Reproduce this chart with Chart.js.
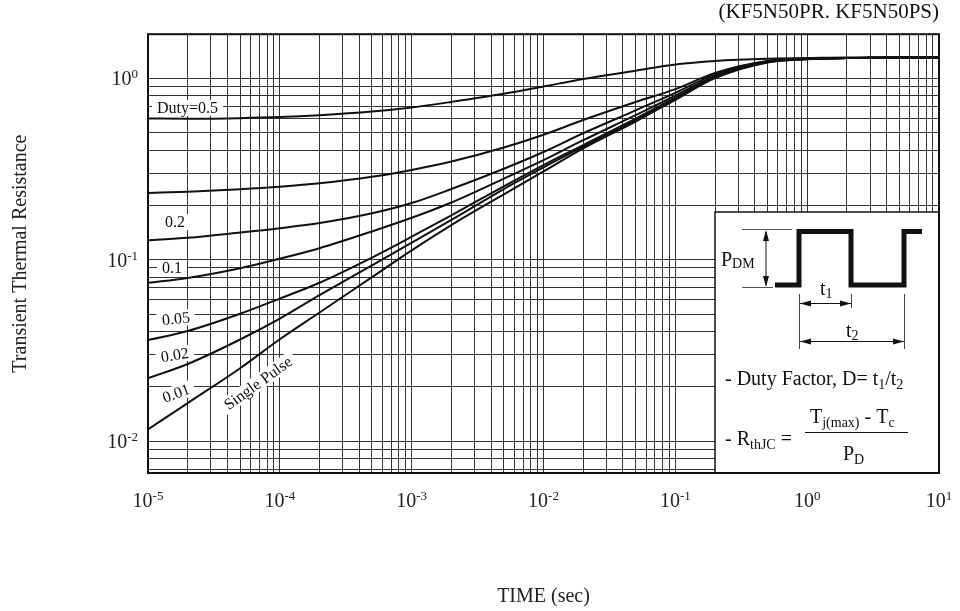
<!DOCTYPE html>
<html>
<head>
<meta charset="utf-8">
<title>Transient Thermal Resistance</title>
<script src="https://cdn.jsdelivr.net/npm/chart.js@4.4.1/dist/chart.umd.min.js"></script>
<style>
  html, body { margin: 0; padding: 0; background: #fff; }
  #chart { display: block; }
</style>
</head>
<body>
<canvas id="chart" width="960" height="611"></canvas>
<script>
const times = [1e-5, 2e-5, 5e-5, 1e-4, 2e-4, 5e-4, 1e-3, 2e-3, 5e-3, 1e-2, 2e-2, 5e-2, 1e-1, 2e-1, 5e-1, 1, 2, 5, 10];

// normalized transient thermal resistance per duty factor
const duty05      = [0.600, 0.598, 0.602, 0.610, 0.625, 0.655, 0.690, 0.740, 0.820, 0.900, 0.990, 1.100, 1.190, 1.245, 1.280, 1.290, 1.300, 1.300, 1.300];
const duty02      = [0.233, 0.2366, 0.2443, 0.2522, 0.2632, 0.2859, 0.312, 0.347, 0.415, 0.488, 0.588, 0.739, 0.870, 1.070, 1.245, 1.280, 1.290, 1.300, 1.300];
const duty01      = [0.128, 0.132, 0.141, 0.149, 0.159, 0.180, 0.205, 0.245, 0.317, 0.392, 0.497, 0.665, 0.830, 1.050, 1.240, 1.280, 1.290, 1.300, 1.300];
const duty005     = [0.0745, 0.0793, 0.0897, 0.1012, 0.1156, 0.143, 0.170, 0.2065, 0.2795, 0.3535, 0.455, 0.625, 0.800, 1.030, 1.235, 1.280, 1.290, 1.300, 1.300];
const duty002     = [0.036, 0.0404, 0.0503, 0.061, 0.0746, 0.1027, 0.1337, 0.1755, 0.2537, 0.332, 0.428, 0.598, 0.780, 1.020, 1.230, 1.275, 1.290, 1.300, 1.300];
const duty001     = [0.0222, 0.0266, 0.0363, 0.0473, 0.0637, 0.0931, 0.1239, 0.1654, 0.245, 0.3223, 0.419, 0.587, 0.770, 1.010, 1.225, 1.275, 1.290, 1.300, 1.300];
const singlePulse = [0.0116, 0.0162, 0.0252, 0.0364, 0.0511, 0.0801, 0.1125, 0.155, 0.229, 0.306, 0.410, 0.577, 0.760, 1.000, 1.220, 1.270, 1.290, 1.300, 1.300];

const seriesNames = ['Duty=0.5', '0.2', '0.1', '0.05', '0.02', '0.01', 'Single Pulse'];
const seriesValues = [duty05, duty02, duty01, duty005, duty002, duty001, singlePulse];

// axis decades and their tick labels (10 raised to the exponent)
const xDecades = [1e-5, 1e-4, 1e-3, 1e-2, 1e-1, 1, 10];
const xTickExps = ['-5', '-4', '-3', '-2', '-1', '0', '1'];
const yDecades = [0.01, 0.1, 1];
const yTickExps = ['-2', '-1', '0'];

const SERIF = '"Liberation Serif", "DejaVu Serif", serif';
const INK = '#111';

// log grid: 1..9 in each decade
function logGrid(decades, lo, hi) {
  const out = [];
  decades.forEach(d => {
    for (let m = 1; m <= 9; m++) {
      const v = m * d;
      if (v >= lo * 0.9999 && v <= hi * 1.0001) out.push({ value: v });
    }
  });
  return out;
}

// text made of runs: [text, size, dy]
function runs(ctx, x, y, parts) {
  parts.forEach(([t, size, dy]) => {
    ctx.font = size + 'px ' + SERIF;
    ctx.fillText(t, x, y + dy);
    x += ctx.measureText(t).width;
  });
  return x;
}

function runsWidth(ctx, parts) {
  let w = 0;
  parts.forEach(([t, size]) => {
    ctx.font = size + 'px ' + SERIF;
    w += ctx.measureText(t).width;
  });
  return w;
}

function arrowHead(ctx, x, y, dir) {
  const L = 11, H = 3;
  ctx.beginPath();
  if (dir === 'l') { ctx.moveTo(x, y); ctx.lineTo(x + L, y - H); ctx.lineTo(x + L, y + H); }
  if (dir === 'r') { ctx.moveTo(x, y); ctx.lineTo(x - L, y - H); ctx.lineTo(x - L, y + H); }
  if (dir === 'u') { ctx.moveTo(x, y); ctx.lineTo(x - H, y + L); ctx.lineTo(x + H, y + L); }
  if (dir === 'd') { ctx.moveTo(x, y); ctx.lineTo(x - H, y - L); ctx.lineTo(x + H, y - L); }
  ctx.closePath();
  ctx.fill();
}

function line(ctx, x1, y1, x2, y2) {
  ctx.beginPath(); ctx.moveTo(x1, y1); ctx.lineTo(x2, y2); ctx.stroke();
}

// curve tags with white boxes, placed from the plot's left edge
const tagSpots = [
  { dx: 9,   y: 108, rot: 0 },
  { dx: 17,  y: 222, rot: 0 },
  { dx: 14,  y: 268, rot: 0 },
  { dx: 14,  y: 320, rot: -6 },
  { dx: 13,  y: 357, rot: -9 },
  { dx: 15,  y: 398, rot: -20 },
  { dx: 110, y: 383, rot: -36, center: true }
];

const annotations = {
  id: 'annotations',
  beforeDatasetsDraw(chart) {
    const { ctx, chartArea: a } = chart;
    ctx.save();

    // labels on the curves
    tagSpots.forEach((s, i) => {
      const text = seriesNames[i];
      ctx.save();
      ctx.translate(a.left + s.dx, s.y);
      ctx.rotate(s.rot * Math.PI / 180);
      ctx.font = '16px ' + SERIF;
      const w = ctx.measureText(text).width;
      const x0 = s.center ? -w / 2 : 0;
      ctx.fillStyle = '#fff';
      ctx.fillRect(x0 - 5, -8, w + 10, 16);
      ctx.fillStyle = INK;
      ctx.textBaseline = 'middle';
      ctx.fillText(text, x0, 1);
      ctx.restore();
    });

    // inset with pulse sketch and formulas
    ctx.translate(a.right - 939, a.bottom - 473);
    ctx.fillStyle = '#fff';
    ctx.fillRect(715, 212, 224, 261);
    ctx.strokeStyle = INK;
    ctx.lineWidth = 1.5;
    ctx.beginPath();
    ctx.moveTo(715, 473); ctx.lineTo(715, 212); ctx.lineTo(939, 212);
    ctx.stroke();

    // pulse train
    ctx.lineWidth = 5;
    ctx.lineJoin = 'miter';
    ctx.beginPath();
    ctx.moveTo(775, 285); ctx.lineTo(799, 285); ctx.lineTo(799, 231.5);
    ctx.lineTo(851, 231.5); ctx.lineTo(851, 285); ctx.lineTo(904, 285);
    ctx.lineTo(904, 231.5); ctx.lineTo(922, 231.5);
    ctx.stroke();

    // P_DM dimension
    ctx.lineWidth = 1;
    ctx.strokeStyle = '#555';
    line(ctx, 742, 229.5, 792, 229.5);
    line(ctx, 742, 287.5, 773, 287.5);
    ctx.strokeStyle = INK;
    line(ctx, 766, 232, 766, 285);
    ctx.fillStyle = INK;
    arrowHead(ctx, 766, 230, 'u');
    arrowHead(ctx, 766, 287, 'd');

    // t1, t2 dimensions
    ctx.strokeStyle = '#444';
    line(ctx, 799.5, 294, 799.5, 349);
    line(ctx, 851.5, 294, 851.5, 308);
    line(ctx, 904.5, 294, 904.5, 349);
    ctx.strokeStyle = INK;
    line(ctx, 800, 303.5, 851, 303.5);
    line(ctx, 800, 341.5, 904, 341.5);
    arrowHead(ctx, 800, 303.5, 'l');
    arrowHead(ctx, 851, 303.5, 'r');
    arrowHead(ctx, 800, 341.5, 'l');
    arrowHead(ctx, 904, 341.5, 'r');

    ctx.textBaseline = 'alphabetic';
    ctx.textAlign = 'left';
    runs(ctx, 721, 266, [['P', 20, 0], ['DM', 14, 2]]);
    runs(ctx, 820, 295, [['t', 20, 0], ['1', 14, 3]]);
    runs(ctx, 846, 337, [['t', 20, 0], ['2', 14, 3]]);

    runs(ctx, 725, 385, [['- Duty Factor, D= t', 20, 0], ['1', 14, 4], ['/t', 20, 0], ['2', 14, 4]]);

    runs(ctx, 725, 445, [['- R', 20, 0], ['thJC', 14, 4], [' =', 20, 0]]);
    ctx.lineWidth = 1;
    line(ctx, 805, 432.5, 908, 432.5);
    runs(ctx, 810, 423, [['T', 20, 0], ['j(max)', 14, 4], [' - T', 20, 0], ['c', 14, 4]]);
    runs(ctx, 843, 460, [['P', 20, 0], ['D', 14, 4]]);

    ctx.restore();
  },
  afterDraw(chart) {
    const { ctx, chartArea: a, scales } = chart;
    ctx.save();

    // decade tick labels with raised exponents, placed by the scales
    ctx.fillStyle = '#222';
    ctx.textBaseline = 'alphabetic';
    ctx.textAlign = 'left';
    xDecades.forEach((d, i) => {
      const parts = [['10', 20, 0], [xTickExps[i], 13, -7]];
      const px = scales.x.getPixelForValue(d);
      runs(ctx, px - runsWidth(ctx, parts) / 2, a.bottom + 34, parts);
    });
    yDecades.forEach((d, i) => {
      const parts = [['10', 20, 0], [yTickExps[i], 13, -7]];
      const py = scales.y.getPixelForValue(d);
      runs(ctx, a.left - 10 - runsWidth(ctx, parts), py + 7, parts);
    });

    ctx.strokeStyle = INK;
    ctx.lineWidth = 2;
    ctx.strokeRect(a.left, a.top, a.right - a.left, a.bottom - a.top);
    ctx.restore();
  }
};

const datasets = seriesValues.map((vals, i) => ({
  label: seriesNames[i],
  data: times.map((t, j) => ({ x: t, y: vals[j] })),
  borderColor: INK,
  borderWidth: 2,
  pointRadius: 0,
  fill: false,
  cubicInterpolationMode: 'monotone'
}));

const titleFont = { family: SERIF, size: 20 };

new Chart(document.getElementById('chart'), {
  type: 'line',
  data: { datasets },
  options: {
    responsive: false,
    animation: false,
    layout: { padding: { top: 0, right: 21, bottom: 0, left: 0 } },
    plugins: {
      legend: { display: false },
      tooltip: { enabled: false },
      title: {
        display: true,
        text: '(KF5N50PR. KF5N50PS)',
        align: 'end',
        color: INK,
        font: { family: SERIF, size: 21, weight: 'normal' },
        padding: { top: 0, bottom: 9 }
      }
    },
    scales: {
      x: {
        type: 'logarithmic',
        min: 1e-5,
        max: 10,
        afterBuildTicks: s => { s.ticks = logGrid(xDecades, 1e-5, 10); },
        afterFit: s => { s.height = 138; },
        grid: { color: '#333', lineWidth: 1, drawTicks: false },
        border: { display: false },
        ticks: { display: false, autoSkip: false },
        title: {
          display: true,
          text: 'TIME (sec)',
          color: '#222',
          font: titleFont,
          padding: { top: 0, bottom: 2 }
        }
      },
      y: {
        type: 'logarithmic',
        min: 0.00667,
        max: 1.747,
        afterBuildTicks: s => { s.ticks = logGrid([0.001, 0.01, 0.1, 1], 0.00667, 1); },
        afterFit: s => { s.width = 148; },
        grid: { color: '#333', lineWidth: 1, drawTicks: false },
        border: { display: false },
        ticks: { display: false, autoSkip: false },
        title: {
          display: true,
          text: 'Transient Thermal Resistance',
          color: '#222',
          font: titleFont,
          padding: { top: 9, bottom: 0 }
        }
      }
    }
  },
  plugins: [annotations]
});
</script>
</body>
</html>
